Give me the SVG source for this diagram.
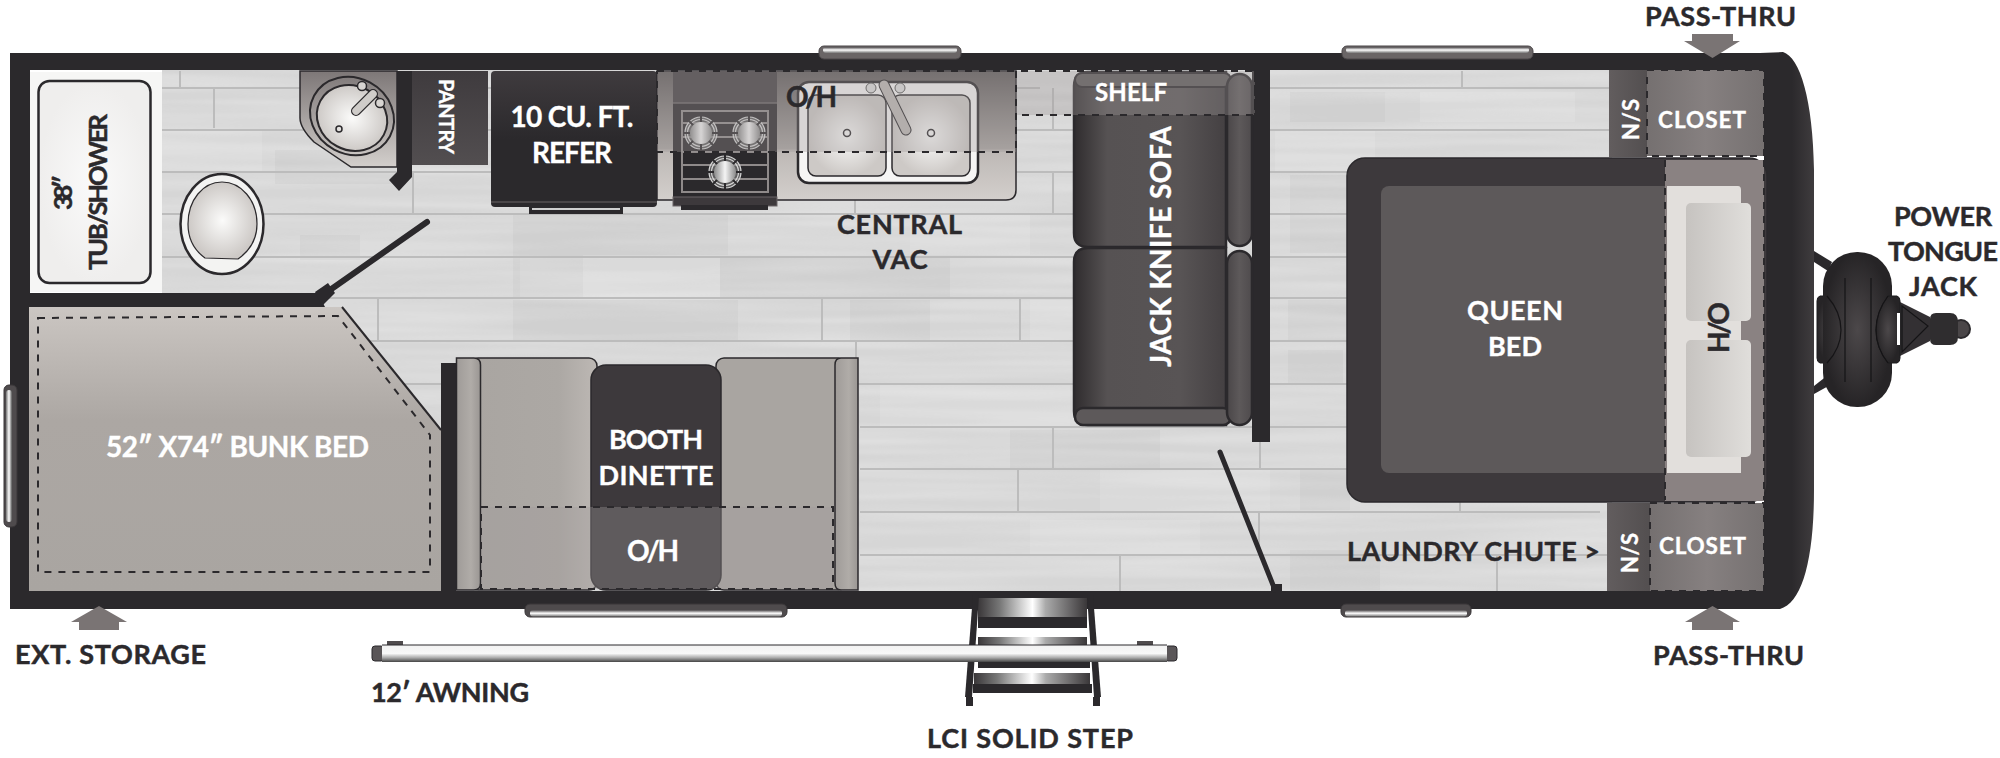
<svg xmlns="http://www.w3.org/2000/svg" width="2000" height="758" viewBox="0 0 2000 758">
<style>
text{font-family:"Lato","Open Sans","Liberation Sans",sans-serif;font-weight:700;font-size:27px;text-anchor:middle}
.d{fill:#2b292c;stroke:#2b292c;stroke-width:.45}.w{fill:#fff;stroke:#fff;stroke-width:.35}
.wall{fill:#2b292c}
.plank{stroke:#bcbcbc;stroke-width:2.2;fill:none}
.joint{stroke:#bcbcbc;stroke-width:2;fill:none}
.dash{fill:none;stroke:#2b292c;stroke-width:2;stroke-dasharray:7 7}
.oh{fill:#a09c9c;opacity:.35}
.arrow{fill:#7a7474}
.ln{fill:none;stroke:#2b292c;stroke-width:2}
.door{fill:none;stroke:#2b292c;stroke-width:6;stroke-linecap:round}
.hi{fill:#fff;opacity:.11}.lo{fill:#000;opacity:.025}
.rack{fill:none;stroke:#8f8a8a;stroke-width:2}
.tick{stroke:#2b292c;stroke-width:2}
.ring{fill:none;stroke:#d8d8d8;stroke-width:1.2}
.arm{fill:url(#sofaArm);stroke:#2b292c;stroke-width:2.5}
.jk{fill:url(#tire);stroke:#1d1c1e;stroke-width:1}
.jl{fill:none;stroke:#151416;stroke-width:1.2}
</style>
<defs>
<linearGradient id="glass" x1="0" y1="0" x2="0" y2="1"><stop offset="0" stop-color="#4a4648"/><stop offset=".5" stop-color="#fff"/><stop offset="1" stop-color="#777"/></linearGradient>
<linearGradient id="glassV" x1="0" y1="0" x2="1" y2="0"><stop offset="0" stop-color="#777"/><stop offset=".5" stop-color="#fff"/><stop offset="1" stop-color="#555"/></linearGradient>
<linearGradient id="tube" x1="0" y1="0" x2="0" y2="1"><stop offset="0" stop-color="#f2f2f2"/><stop offset=".5" stop-color="#f8f8f8"/><stop offset=".75" stop-color="#aaa"/><stop offset="1" stop-color="#444"/></linearGradient>
<linearGradient id="tread" x1="0" y1="0" x2="1" y2="0"><stop offset="0" stop-color="#3a3739"/><stop offset=".2" stop-color="#777"/><stop offset=".5" stop-color="#fff"/><stop offset=".62" stop-color="#aaa"/><stop offset="1" stop-color="#3a3739"/></linearGradient>
<linearGradient id="bunk" x1="0" y1="0" x2="0" y2="1"><stop offset="0" stop-color="#cbc6c2"/><stop offset=".4" stop-color="#aca7a3"/><stop offset="1" stop-color="#a9a5a1"/></linearGradient>
<linearGradient id="seatL" x1="0" y1="0" x2="1" y2="0"><stop offset="0" stop-color="#a9a5a1"/><stop offset=".7" stop-color="#aca8a4"/><stop offset="1" stop-color="#bdb8b4"/></linearGradient>
<linearGradient id="armG" x1="0" y1="0" x2="1" y2="0"><stop offset="0" stop-color="#9f9b98"/><stop offset=".6" stop-color="#b0aca8"/><stop offset="1" stop-color="#9a9693"/></linearGradient>
<linearGradient id="counter" x1="0" y1="0" x2="0" y2="1"><stop offset="0" stop-color="#5f5a5a"/><stop offset=".6" stop-color="#a9a4a1"/><stop offset=".62" stop-color="#bdb8b5"/><stop offset="1" stop-color="#d3cfcc"/></linearGradient>
<linearGradient id="vanity" x1="0" y1="0" x2="0" y2="1"><stop offset="0" stop-color="#7d7777"/><stop offset="1" stop-color="#d3cfcc"/></linearGradient>
<linearGradient id="pantry" x1="0" y1="0" x2="0" y2="1"><stop offset="0" stop-color="#3f3b3e"/><stop offset="1" stop-color="#524e50"/></linearGradient>
<linearGradient id="refer" x1="0" y1="0" x2="0" y2="1"><stop offset="0" stop-color="#3f3b3e"/><stop offset=".5" stop-color="#2b292c"/><stop offset="1" stop-color="#2b292c"/></linearGradient>
<radialGradient id="bowl"><stop offset="0" stop-color="#fbfbfa"/><stop offset="1" stop-color="#cdc9c6"/></radialGradient>
<radialGradient id="tub"><stop offset="0" stop-color="#fafafa"/><stop offset="1" stop-color="#efeeed"/></radialGradient>
<linearGradient id="sofa" x1="0" y1="0" x2="1" y2="0"><stop offset="0" stop-color="#2f2c2e"/><stop offset=".22" stop-color="#565253"/><stop offset=".7" stop-color="#585455"/><stop offset="1" stop-color="#444042"/></linearGradient>
<linearGradient id="sofaArm" x1="0" y1="0" x2="1" y2="0"><stop offset="0" stop-color="#4a4648"/><stop offset=".5" stop-color="#5d595a"/><stop offset="1" stop-color="#4f4b4d"/></linearGradient>
<linearGradient id="pillow" x1="0" y1="0" x2="1" y2="0"><stop offset="0" stop-color="#c6c3c0"/><stop offset="1" stop-color="#e0dedb"/></linearGradient>
<linearGradient id="ns" x1="0" y1="0" x2="1" y2="0"><stop offset="0" stop-color="#625d5e"/><stop offset="1" stop-color="#534f50"/></linearGradient>
<linearGradient id="closet" x1="0" y1="0" x2="1" y2="0"><stop offset="0" stop-color="#757070"/><stop offset=".5" stop-color="#868080"/><stop offset="1" stop-color="#767171"/></linearGradient>
<linearGradient id="cap" x1="0" y1="0" x2="1" y2="0"><stop offset="0" stop-color="#2b292c"/><stop offset=".7" stop-color="#2b292c"/><stop offset="1" stop-color="#3f3c3e"/></linearGradient>
<radialGradient id="tire"><stop offset="0" stop-color="#4c484a"/><stop offset="1" stop-color="#262426"/></radialGradient>
<linearGradient id="metal" x1="0" y1="0" x2="1" y2="0"><stop offset="0" stop-color="#8a8a8a"/><stop offset=".5" stop-color="#f4f4f4"/><stop offset="1" stop-color="#8a8a8a"/></linearGradient>
<filter id="grain" x="0" y="0" width="1" height="1"><feTurbulence type="fractalNoise" baseFrequency="0.004 0.09" numOctaves="2" seed="4"/><feColorMatrix values="0 0 0 0 1  0 0 0 0 1  0 0 0 0 1  1.6 0 0 0 -.5"/></filter>
<g id="burner">
<circle r="16" fill="#8a8a8a" opacity=".55"/><circle r="16" class="ring"/><circle r="13.5" class="ring"/>
<circle r="11" fill="url(#metal)"/>
<path class="tick" d="M0,-17V-11M0,17V11M-17,0H-11M17,0H11M-12,-12L-8,-8M12,-12L8,-8M-12,12L-8,8M12,12L8,8"/>
</g>
</defs>

<rect width="2000" height="758" fill="#fff"/>

<g id="floor">
<rect x="162" y="70" width="1450" height="522" fill="#d6d6d6"/>
<rect x="162" y="70" width="1450" height="522" filter="url(#grain)" opacity=".28"/>
<path class="lo" d="M275,150h130v34H275zM300,235h60v25H300zM513,215h215v40H513zM513,253h70v45H513zM720,256h230v42H720zM513,300h225v40H513zM850,300h80v40H850zM1290,92h130v30H1290zM1290,175h120v40H1290zM1290,215h120v38H1290zM1288,300h100v40H1288zM1288,350h55v35H1288zM700,430h140v40H700zM1010,430h150v38H1010zM1300,470h50v40H1300zM1290,550h90v40H1290z"/>
<path class="hi" d="M162,130h100v42H162zM520,258h200v42H520zM910,215h120v40H910zM1030,300h150v40H1030zM880,385h190v42H880zM1100,470h170v42H1100zM1385,92h190v30H1385zM1275,130h100v42H1275zM1030,520h170v35H1030z"/>
<path class="plank" d="M162,88H1040M162,130H1074M162,172H1074M162,214H1074M162,257H1074M162,298H1074M340,341H1074M400,384H1074M860,427H1347M860,469H1347M860,512H1600M860,555H1610M1270,88H1610M1270,130H1610M1270,172H1350M1270,214H1350M1270,257H1350M1270,298H1350M1270,341H1350M1270,384H1350"/>
<path class="joint" d="M180,71V88M214,88V128M413,172V214M378,298V341M855,200V214M822,298V341M1020,298V341M856,341V384M1053,88V130M1053,172V214M1462,71V88M1053,427V469M1018,469V512M1460,502V512M1259,512V555M1497,555V591M1260,430V469M1120,555V591"/>
</g>

<g id="shell">
<path class="wall" d="M10,53H1783V70H30V293H318L325,307H30V591H1770V609H10Z"/>
<path fill="url(#cap)" d="M1764,70V591L1740,609H1780C1802,603 1814,560 1814,490V170C1813,100 1800,57 1783,52L1760,53Z"/>
<rect class="wall" x="441" y="363" width="15" height="230"/>
<path class="wall" d="M397,71H412V177L399,191L389,180L397,172Z"/>
<rect class="wall" x="1252" y="53" width="18" height="389"/>
</g>

<g id="windows">
<g id="window-top-1"><rect x="819" y="46" width="142" height="13" rx="5" fill="#6a6566" stroke="#4a4648"/><rect x="823" y="47" width="134" height="6" rx="3" fill="url(#glass)"/></g>
<g id="window-top-2"><rect x="1342" y="46" width="191" height="13" rx="5" fill="#6a6566" stroke="#4a4648"/><rect x="1346" y="47" width="183" height="6" rx="3" fill="url(#glass)"/></g>
<g id="window-bottom-1"><rect x="525" y="604" width="262" height="13" rx="5" fill="#4f4b4d" stroke="#3a3739"/><rect x="530" y="610" width="252" height="6.500" rx="3" fill="url(#glass)"/></g>
<g id="window-bottom-2"><rect x="1341" y="604" width="130" height="13" rx="5" fill="#4f4b4d" stroke="#3a3739"/><rect x="1345" y="610" width="122" height="6.500" rx="3" fill="url(#glass)"/></g>
<g id="window-side"><rect x="4" y="385" width="13" height="142" rx="5" fill="#4f4b4d" stroke="#3a3739"/><rect x="6" y="390" width="6" height="132" rx="3" fill="url(#glassV)"/></g>
</g>

<g id="tub-shower">
<rect x="30" y="72" width="132" height="220" fill="#f6f6f5"/>
<rect x="38.500" y="81" width="112" height="202" rx="11" fill="url(#tub)" stroke="#2b292c" stroke-width="2.500"/>
<text class="d" transform="translate(72,192.500) rotate(-90)" style="font-size:25.5px" textLength="35">38″</text>
<text class="d" transform="translate(107,192) rotate(-90)" style="font-size:25.5px" textLength="156">TUB/SHOWER</text>
</g>

<g id="toilet">
<ellipse cx="222" cy="224" rx="41.500" ry="50" fill="#f3f3f2" stroke="#2b292c" stroke-width="2.500"/>
<path d="M205,258C194,250 188,238 188,224C188,200 203,182 222,182C241,182 257,200 257,224C257,238 251,250 238,259Z" fill="url(#bowl)" stroke="#2b292c" stroke-width="1.200"/>
</g>

<g id="vanity-sink">
<path d="M300,71H397V167H351L314,142C305,133 300,125 300,118Z" fill="url(#vanity)" stroke="#2b292c" stroke-width="1.500"/>
<ellipse cx="352" cy="116" rx="43" ry="38" transform="rotate(28 352 116)" fill="none" stroke="#2b292c" stroke-width="2"/>
<ellipse cx="352" cy="118" rx="36" ry="32" transform="rotate(28 352 118)" fill="url(#bowl)" stroke="#2b292c" stroke-width="2"/>
<circle cx="339" cy="129" r="3" fill="none" stroke="#2b292c" stroke-width="1.500"/>
<circle cx="362" cy="86" r="4.500" fill="#d8d5d2" stroke="#2b292c" stroke-width="1.500"/>
<circle cx="380" cy="103" r="4.500" fill="#d8d5d2" stroke="#2b292c" stroke-width="1.500"/>
<path d="M356,111L373,94" stroke="#2b292c" stroke-width="10" stroke-linecap="round"/>
<path d="M356,111L373,94" stroke="#cfccc9" stroke-width="7.500" stroke-linecap="round"/>
</g>

<g id="pantry-unit">
<rect x="412" y="71" width="76" height="94" fill="url(#pantry)"/>
<text class="w" transform="translate(439,116.500) rotate(90)" style="font-size:20px" textLength="75">PANTRY</text>
</g>

<g id="refrigerator">
<rect x="529" y="205" width="94" height="9" fill="#2b292c"/>
<rect x="532" y="208" width="88" height="2" fill="#cfcfcf"/>
<rect x="491" y="71" width="166" height="136" rx="4" fill="url(#refer)"/>
<rect x="491" y="201" width="166" height="2" fill="#4a4648"/>
<text class="w" x="572" y="127" textLength="123" style="font-size:28px">10 CU. FT.</text>
<text class="w" x="572" y="163" textLength="80" style="font-size:28px">REFER</text>
</g>

<g id="galley">
<path d="M657,71H1016V190Q1016,200 1006,200H657Z" fill="url(#counter)" stroke="#2b292c" stroke-width="1.500"/>
<g id="stove">
<rect x="673" y="71" width="104" height="126" fill="#2b292c"/>
<rect x="673" y="197" width="104" height="9" fill="#3d393c" stroke="#6a6566"/>
<rect x="681" y="205" width="87" height="5" fill="#2b292c"/>
<rect x="682" y="111" width="86" height="81" class="rack"/>
<path class="rack" d="M682,123H768M682,137H768M682,165H768M682,179H768M682,152H768"/>
<use href="#burner" x="701" y="133"/><use href="#burner" x="749" y="133"/><use href="#burner" x="725" y="172"/>
<rect x="673" y="71" width="104" height="32" fill="#444042"/>
<path d="M673,103H777" stroke="#6a6566" stroke-width="1.500"/>
</g>
<g id="galley-sink">
<rect x="798" y="82" width="180" height="101" rx="11" fill="#f6f5f4" stroke="#2b292c" stroke-width="2.500"/>
<rect x="808" y="95" width="78" height="81" rx="8" fill="url(#bowl)" stroke="#2b292c" stroke-width="1.500"/>
<rect x="892" y="95" width="78" height="81" rx="8" fill="url(#bowl)" stroke="#2b292c" stroke-width="1.500"/>
<circle cx="847" cy="133" r="3.500" fill="none" stroke="#2b292c" stroke-width="1.500"/>
<circle cx="931" cy="133" r="3.500" fill="none" stroke="#2b292c" stroke-width="1.500"/>
<circle cx="871" cy="88" r="5" fill="#ddd" stroke="#555"/><circle cx="900" cy="88" r="5" fill="#ddd" stroke="#555"/>
<path d="M884,85L906,130" stroke="#2b292c" stroke-width="11" stroke-linecap="round"/>
<path d="M884,85L906,130" stroke="#bdb9b6" stroke-width="9" stroke-linecap="round"/>
</g>
</g>

<g id="sofa-unit">
<path d="M1088,72H1226V247H1088Q1074,247 1074,233V86Q1074,72 1088,72Z" fill="url(#sofa)" stroke="#2b292c" stroke-width="2.500"/>
<path d="M1088,248H1226V425H1088Q1074,425 1074,411V262Q1074,248 1088,248Z" fill="url(#sofa)" stroke="#2b292c" stroke-width="2.500"/>
<rect x="1075" y="73" width="156" height="14" rx="7" fill="#5d595a" stroke="#2b292c" stroke-width="2"/>
<rect x="1075" y="408" width="156" height="17" rx="8" fill="#5d595a" stroke="#2b292c" stroke-width="2.500"/>
<rect class="arm" x="1227" y="74" width="25" height="172" rx="12.500"/>
<rect class="arm" x="1227" y="251" width="25" height="174" rx="12.500"/>
<text class="w" transform="translate(1171,246.500) rotate(-90)" textLength="241" style="font-size:28px">JACK KNIFE SOFA</text>
</g>

<g id="queen-bed">
<rect x="1347" y="158" width="420" height="344" rx="18" fill="#3d393c" stroke="#2b292c" stroke-width="1.500"/>
<rect x="1381" y="186" width="300" height="287" rx="8" fill="#5d595a"/>
<rect x="1665" y="160" width="99" height="341" fill="#8a8282"/>
<path d="M1667,186H1738Q1741,186 1741,190V473H1667Z" fill="#e2dfdc"/>
<rect x="1686" y="203" width="65" height="118" rx="5" fill="url(#pillow)"/>
<rect x="1686" y="340" width="65" height="117" rx="5" fill="url(#pillow)"/>
<path class="dash" d="M1665,160V500M1764,160V500"/>
<text class="w" x="1515" y="320" textLength="96">QUEEN</text>
<text class="w" x="1515" y="356" textLength="54">BED</text>
<text class="d" transform="translate(1729,327.500) rotate(-90)" textLength="51" style="font-size:28px">H/O</text>
</g>

<g id="closet-top">
<rect x="1609" y="70" width="38" height="87" fill="url(#ns)"/>
<rect x="1647" y="70" width="117" height="86" fill="url(#closet)"/>
<path class="dash" d="M1647,70H1764V156H1647Z"/>
<text class="w" transform="translate(1639,119.500) rotate(-90)" textLength="41" style="font-size:22px">N/S</text>
<text class="w" x="1702" y="128" textLength="88" style="font-size:22.5px">CLOSET</text>
</g>
<g id="closet-bottom">
<rect x="1607" y="503" width="43" height="88" fill="url(#ns)"/>
<rect x="1650" y="503" width="114" height="88" fill="url(#closet)"/>
<path class="dash" d="M1650,503H1764V591H1650Z"/>
<text class="w" transform="translate(1638,553) rotate(-90)" textLength="40" style="font-size:22px">N/S</text>
<text class="w" x="1702.500" y="554" textLength="87" style="font-size:22.5px">CLOSET</text>
</g>

<g id="bunk-bed">
<path d="M29,307H342L441,430V591H29Z" fill="url(#bunk)"/>
<path class="ln" d="M342,307L441,430"/>
<path class="dash" d="M38,318L338,316L430,435V572H38Z"/>
<text class="w" x="237.500" y="457" textLength="263" style="font-size:28px">52″ X74″ BUNK BED</text>
</g>

<g id="dinette">
<rect x="470" y="358" width="127" height="232" rx="8" fill="url(#seatL)" stroke="#2b292c" stroke-width="1.500"/>
<rect x="716" y="358" width="130" height="232" rx="8" fill="#a9a5a1" stroke="#2b292c" stroke-width="1.500"/>
<path d="M456.500,358H474Q480.500,358 480.500,365V583Q480.500,590 474,590H456.500Z" fill="url(#armG)" stroke="#2b292c" stroke-width="1.500"/>
<path d="M858,358H841Q835,358 835,365V583Q835,590 841,590H858Z" fill="url(#armG)" stroke="#2b292c" stroke-width="1.500"/>
<rect x="591" y="365" width="130" height="225" rx="15" fill="#3d393c" stroke="#2b292c" stroke-width="1.500"/>
<text class="w" x="656" y="449" textLength="94">BOOTH</text>
<text class="w" x="656" y="485" textLength="115">DINETTE</text>
</g>

<g id="overheads">
<path class="oh" d="M657,71H1016V152H657ZM1016,71H1255V115H1016Z"/>
<path class="oh" d="M481,507H833V589H481Z"/>
<path class="dash" d="M657,71H1255V115H1016M1255,71V115M1016,71V152H657V71"/>
<path class="dash" d="M481,507H833V589H481Z"/>
<text class="d" x="811.500" y="107" textLength="51" style="font-size:28px">O/H</text>
<text class="w" x="1131" y="101" textLength="72" style="font-size:24px">SHELF</text>
<text class="w" x="653" y="561" textLength="52" style="font-size:28px">O/H</text>
</g>

<g id="doors">
<path class="door" d="M427,222L330,290"/>
<path class="wall" d="M315,292L328,283L335,293L322,306Z"/>
<path class="door" style="stroke-width:5" d="M1220,452L1275,590"/>
<rect class="wall" x="1271" y="584" width="11" height="8"/>
</g>

<g id="step">
<rect x="978" y="598" width="109" height="19" fill="url(#tread)"/>
<rect x="978" y="617" width="109" height="11" fill="#2b292c"/>
<rect x="978" y="628" width="109" height="5.500" fill="#fff"/>
<rect x="978" y="637" width="109" height="8" fill="url(#tread)"/>
<rect x="978" y="661" width="112" height="7" fill="#2b292c"/>
<rect x="980" y="668" width="110" height="4.500" fill="#fff"/>
<rect x="974" y="673" width="116" height="11" fill="url(#tread)"/>
<rect x="973" y="684" width="119" height="9" fill="#2b292c"/>
<path class="wall" d="M973,595H979L972,697H965Z"/>
<path class="wall" d="M1087,595H1093L1101,697H1094Z"/>
<rect class="wall" x="966" y="697" width="7" height="9"/>
<rect class="wall" x="1093" y="697" width="7" height="9"/>
</g>

<g id="awning">
<rect x="387" y="641" width="16" height="5" fill="#4f4b4d"/>
<rect x="1137" y="641" width="16" height="5" fill="#4f4b4d"/>
<rect x="372" y="646" width="12" height="15" rx="3" fill="#5a5658" stroke="#2b292c"/>
<rect x="1165" y="646" width="12" height="15" rx="3" fill="#5a5658" stroke="#2b292c"/>
<rect x="382" y="645" width="785" height="17" fill="url(#tube)"/>
<path d="M382,645H1167" stroke="#2b292c" stroke-width="1"/>
</g>

<g id="tongue-jack">
<path class="wall" d="M1814,251L1832,262L1828,271L1814,262Z"/>
<path class="wall" d="M1814,394L1832,384L1828,375L1814,386Z"/>
<path d="M1890,297L1930,317V341L1890,361Z" fill="#333033"/>
<path class="jl" d="M1902,306L1928,326L1902,352Z"/>
<path class="jk" d="M1827,296Q1841,312 1841,330Q1841,348 1827,363H1820Q1817,362 1817,358V301Q1817,297 1820,296Z"/>
<rect x="1823" y="252" width="69" height="155" rx="34" fill="url(#tire)"/>
<path class="jk" d="M1888,296Q1876,312 1876,330Q1876,348 1888,363H1897Q1900,362 1900,358V301Q1900,297 1897,296Z"/>
<path d="M1897,313H1900V345H1897Z" fill="#fff"/>
<path class="jl" d="M1845,278V382M1871,278V382"/>
<path class="jl" d="M1827,296Q1841,312 1841,330Q1841,348 1827,363M1888,296Q1876,312 1876,330Q1876,348 1888,363"/>
<circle cx="1961" cy="329" r="9" fill="#4a4648" stroke="#2b292c" stroke-width="2"/>
<path d="M1930,319Q1930,313 1936,313H1950Q1958,313 1958,322V337Q1958,345 1950,345H1936Q1930,345 1930,339Z" fill="#2f2d2f"/>
</g>

<g id="labels">
<g id="pass-thru-top"><text class="d" x="1720.500" y="26" textLength="151">PASS-THRU</text><path class="arrow" d="M1692,34H1733V41H1740L1712.500,58L1684,41H1692Z"/></g>
<g id="pass-thru-bottom"><text class="d" x="1728.500" y="665" textLength="151">PASS-THRU</text><path class="arrow" d="M1712.500,606L1740,622H1733V630H1692V622H1685Z"/></g>
<g id="ext-storage"><text class="d" x="110.500" y="664" textLength="191">EXT. STORAGE</text><path class="arrow" d="M99,606L127,622H119V630H79V622H71Z"/></g>
<text class="d" x="450" y="702" textLength="158">12′ AWNING</text>
<text class="d" x="1030" y="748" textLength="206">LCI SOLID STEP</text>
<text class="d" x="899.500" y="234" textLength="125">CENTRAL</text>
<text class="d" x="900" y="269" textLength="55">VAC</text>
<text class="d" x="1473.500" y="561" textLength="253">LAUNDRY CHUTE &gt;</text>
<text class="d" x="1943" y="226" textLength="98">POWER</text>
<text class="d" x="1943" y="261" textLength="110">TONGUE</text>
<text class="d" x="1943" y="296" textLength="68">JACK</text>
</g>
</svg>
